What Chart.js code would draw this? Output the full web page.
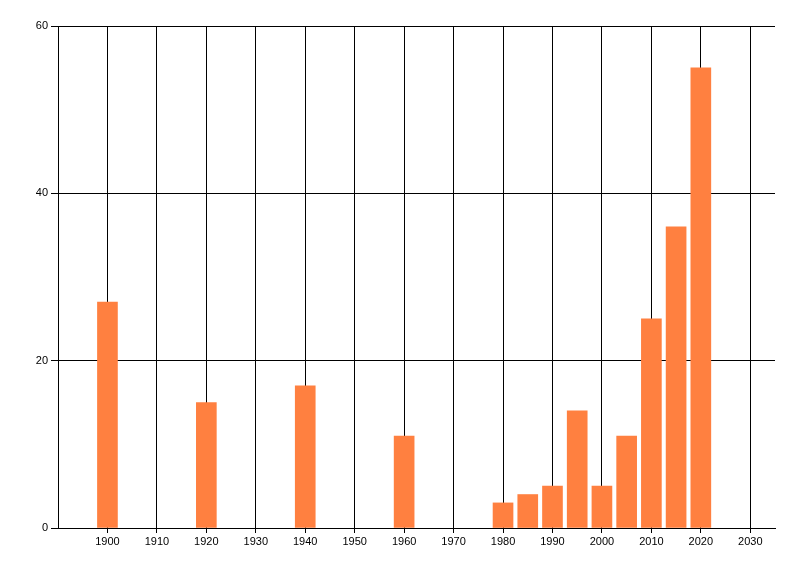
<!DOCTYPE html>
<html>
<head>
<meta charset="utf-8">
<script src="https://cdn.jsdelivr.net/npm/chart.js@4"></script>
<style>
  html, body { margin: 0; padding: 0; background: #fff; }
  #wrap { width: 800px; height: 576px; }
</style>
</head>
<body>
<div id="wrap"><canvas id="yearChart"></canvas></div>
<script>
// data
var years = [1900, 1920, 1940, 1960, 1980, 1985, 1990, 1995, 2000, 2005, 2010, 2015, 2020];
var counts = [27, 15, 17, 11, 3, 4, 5, 14, 5, 11, 25, 36, 55];
var xTicks = [1900, 1910, 1920, 1930, 1940, 1950, 1960, 1970, 1980, 1990, 2000, 2010, 2020, 2030];
var yTicks = [0, 20, 40, 60];

document.addEventListener("DOMContentLoaded", function() {
    var ctx = document.getElementById('yearChart').getContext('2d');

    var points = years.map(function(y, i) {
        return { x: y, y: counts[i] };
    });

    var tickFont = { family: 'Liberation Sans', size: 11 };

    new Chart(ctx, {
        type: 'bar',
        data: {
            datasets: [{
                data: points,
                backgroundColor: '#FF8040',
                borderWidth: 0,
                barThickness: 20
            }]
        },
        options: {
            responsive: true,
            maintainAspectRatio: false,
            animation: false,
            layout: { padding: { top: 26, right: 25, left: 0, bottom: 0 } },
            plugins: {
                legend: { display: false },
                tooltip: { enabled: false }
            },
            scales: {
                x: {
                    type: 'linear',
                    min: 1890,
                    max: 2035,
                    offset: false,
                    afterBuildTicks: function(scale) {
                        scale.ticks = xTicks.map(function(v) { return { value: v }; });
                    },
                    afterFit: function(scale) { scale.height = 48; },
                    grid: {
                        color: '#000',
                        lineWidth: 1,
                        offset: false,
                        drawTicks: true,
                        tickLength: 5
                    },
                    border: { color: '#000', width: 1 },
                    ticks: {
                        color: '#000',
                        font: tickFont,
                        padding: 2,
                        maxRotation: 0,
                        autoSkip: false,
                        callback: function(v) { return String(v); }
                    }
                },
                y: {
                    min: 0,
                    max: 60,
                    afterBuildTicks: function(scale) {
                        scale.ticks = yTicks.map(function(v) { return { value: v }; });
                    },
                    afterFit: function(scale) { scale.width = 58; },
                    grid: {
                        color: '#000',
                        lineWidth: 1,
                        drawTicks: true,
                        tickLength: 7
                    },
                    border: { color: '#000', width: 1 },
                    ticks: {
                        color: '#000',
                        font: tickFont,
                        padding: 3
                    }
                }
            }
        }
    });
});
</script>
</body>
</html>
